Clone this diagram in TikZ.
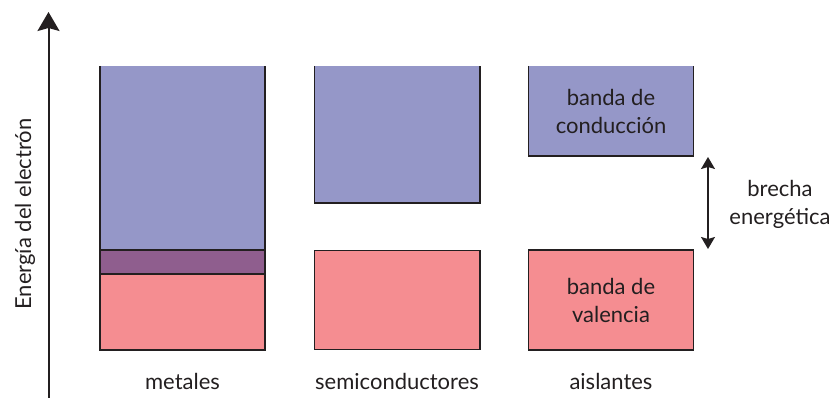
\documentclass[tikz,border=0pt]{standalone}
\usepackage{fontspec}
\setmainfont{Lato}
\usetikzlibrary{arrows.meta}
\definecolor{condband}{HTML}{9597C8}
\definecolor{valband}{HTML}{F58D91}
\definecolor{overlapband}{HTML}{8F5E8E}
\definecolor{edge}{HTML}{231F20}
\tikzset{
  band/.style={inner sep=0pt, outer sep=0pt, anchor=north west},
  bandedge/.style={draw=edge, line width=1.3pt},
  label/.style={font=\fontsize{22}{28}\selectfont, text=edge, align=center, inner sep=0pt},
}
\begin{document}
\begin{tikzpicture}[x=1pt, y=-1pt]
\useasboundingbox (0,0) rectangle (833,398);

% energy axis
\coordinate (axbot) at (48.5,398);
\coordinate (axtop) at (48.5,12);
\draw[edge, line width=2pt, -{Stealth[length=19pt,width=22pt,inset=3pt]}] (axbot) -- (axtop);
\node[label, rotate=90] (axlabel) at (25,214) {Energía del electrón};

% metales
\node[band, fill=condband, minimum width=165pt, minimum height=184pt] (mc) at (100,66) {};
\node[band, fill=overlapband, minimum width=165pt, minimum height=24pt] (mo) at (100,250) {};
\node[band, fill=valband, minimum width=165pt, minimum height=76pt] (mv) at (100,274) {};
\draw[bandedge] (mc.north west) -- (mv.south west) -- (mv.south east) -- (mc.north east);
\draw[bandedge] (mo.north west) -- (mo.north east);
\draw[bandedge] (mo.south west) -- (mo.south east);

% semiconductores
\node[band, fill=condband, minimum width=165.5pt, minimum height=137pt] (sc) at (314.5,66) {};
\node[band, fill=valband, minimum width=165.5pt, minimum height=99pt] (sv) at (314.5,250.5) {};
\draw[bandedge] (sc.north west) |- (sc.south east) -- (sc.north east);
\draw[bandedge] (sv.north west) rectangle (sv.south east);

% aislantes
\node[band, fill=condband, minimum width=165pt, minimum height=90pt] (ic) at (528.5,66) {};
\node[band, fill=valband, minimum width=165pt, minimum height=100pt] (iv) at (528.5,250) {};
\draw[bandedge] (ic.north west) |- (ic.south east) -- (ic.north east);
\draw[bandedge] (iv.north west) rectangle (iv.south east);
\node[label] (ictext) at (ic.center) {banda de\\conducción};
\node[label] (ivtext) at (iv.center) {banda de\\valencia};

% band gap
\coordinate (gaptop) at (708,157);
\coordinate (gapbot) at (708,249);
\draw[edge, line width=1.3pt, {Stealth[length=12pt,width=14pt,inset=2pt]}-{Stealth[length=12pt,width=14pt,inset=2pt]}] (gaptop) -- (gapbot);
\node[label] (gaptext) at (780,204) {brecha\\energética};

% column captions
\node[label] (lm) at (182.5,381) {metales};
\node[label] (ls) at (397,381) {semiconductores};
\node[label] (li) at (611,381) {aislantes};
\end{tikzpicture}
\end{document}
